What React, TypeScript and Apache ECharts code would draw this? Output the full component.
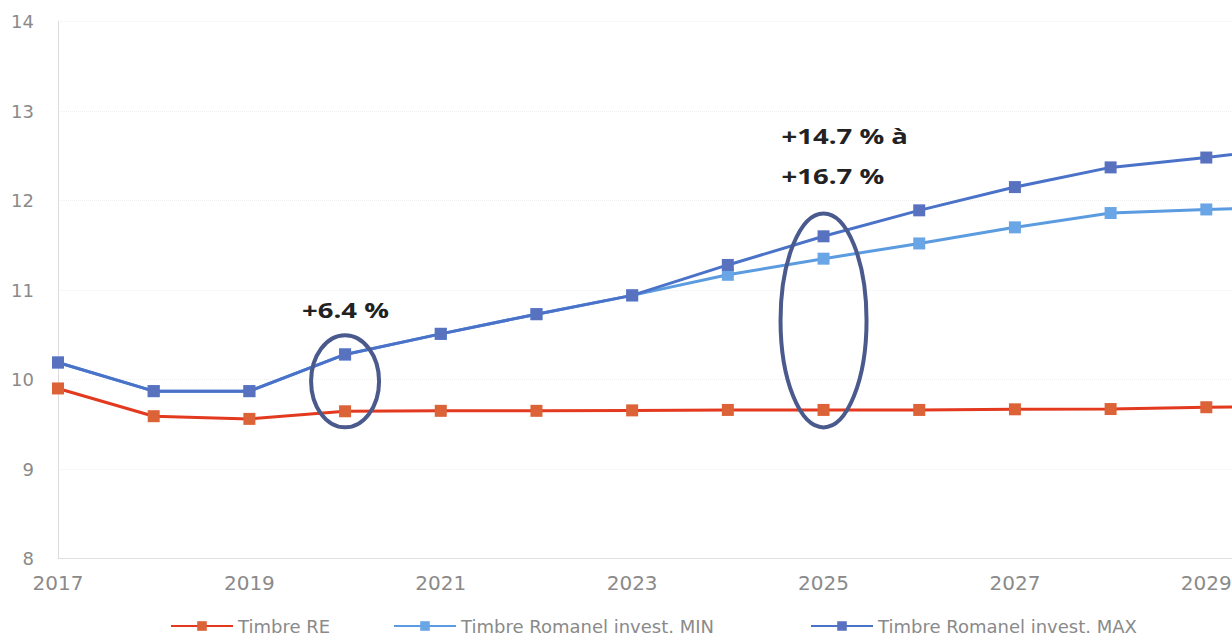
import React, { useEffect, useRef } from "react";
import * as echarts from "echarts";

const years = ["2017","2018","2019","2020","2021","2022","2023","2024","2025","2026","2027","2028","2029","2030"];
const timbreRE = [9.9, 9.59, 9.56, 9.645, 9.65, 9.65, 9.655, 9.66, 9.66, 9.66, 9.667, 9.67, 9.69, 9.7];
const romanelMin = [10.19, 9.87, 9.87, 10.28, 10.51, 10.73, 10.94, 11.17, 11.35, 11.52, 11.7, 11.86, 11.9, 11.93];
const romanelMax = [10.19, 9.87, 9.87, 10.28, 10.51, 10.73, 10.94, 11.28, 11.6, 11.89, 12.15, 12.37, 12.48, 12.61];
const seriesNames = ["Timbre RE", "Timbre Romanel invest. MIN", "Timbre Romanel invest. MAX"];
const annotationYears = ["2020", "2025"];
const annotationCenters = [9.98, 10.66];
const annotationTexts = [["+6.4 %"], ["+14.7 % à", "+16.7 %"]];

// layout of the annotation marks (pixels)
const annLayout = [
  { rx: 34, ry: 46, dx: -43, lastDy: -26 },
  { rx: 43, ry: 107, dx: -42, lastDy: -38 },
];

export default function App() {
  const ref = useRef<HTMLDivElement>(null);
  useEffect(() => {
    const chart = echarts.init(ref.current!, undefined, { renderer: "svg" });
    const gray = "#8a8a8a";
    const mkSeries = (name: string, data: number[], line: string, marker: string, z: number) => ({
      name,
      type: "line",
      data,
      symbol: "rect",
      symbolSize: 12,
      z,
      lineStyle: { color: line, width: 3 },
      itemStyle: { color: marker },
    });
    const legendBase = {
      top: 612,
      itemWidth: 62,
      itemHeight: 12,
      textStyle: { color: gray, fontSize: 18, fontFamily: "DejaVu Sans" },
    };
    chart.setOption({
      animation: false,
      backgroundColor: "#ffffff",
      grid: { left: 58, right: 0, top: 21.5, bottom: 80.5 },
      xAxis: {
        type: "category",
        data: years,
        boundaryGap: false,
        axisLine: { show: true, lineStyle: { color: "#d8d8d8", type: "dotted", width: 1 } },
        axisTick: { show: false },
        axisLabel: { interval: 1, color: gray, fontSize: 20, fontFamily: "DejaVu Sans", margin: 14 },
        splitLine: { show: false },
      },
      yAxis: {
        type: "value",
        min: 8,
        max: 14,
        interval: 1,
        axisLine: { show: true, lineStyle: { color: "#d8d8d8", type: "dotted", width: 1 } },
        axisTick: { show: false },
        axisLabel: { color: gray, fontSize: 18, fontFamily: "DejaVu Sans", margin: 24 },
        splitLine: { show: true, lineStyle: { color: "#efefef", type: "dotted", width: 1 } },
      },
      legend: [
        { ...legendBase, left: 165, data: [seriesNames[0]] },
        { ...legendBase, left: 388, data: [seriesNames[1]] },
        { ...legendBase, left: 805, data: [seriesNames[2]] },
      ],
      series: [
        mkSeries(seriesNames[0], timbreRE, "#e2391f", "#dc6238", 3),
        mkSeries(seriesNames[1], romanelMin, "#5b9be0", "#6aa6e6", 4),
        mkSeries(seriesNames[2], romanelMax, "#4a72c8", "#5872c0", 5),
      ],
    });
    const graphics: any[] = [];
    annotationYears.forEach((yr, k) => {
      const L = annLayout[k];
      const p = chart.convertToPixel({ gridIndex: 0 }, [yr, annotationCenters[k]]) as number[];
      graphics.push({
        type: "ellipse",
        shape: { cx: p[0], cy: p[1], rx: L.rx, ry: L.ry },
        style: { fill: "none", stroke: "#4b5a8c", lineWidth: 4 },
        z: 10,
      });
      const lines = annotationTexts[k];
      const lastY = p[1] - L.ry + L.lastDy;
      lines.forEach((t, i) => {
        graphics.push({
          type: "text",
          x: p[0] + L.dx,
          y: lastY - (lines.length - 1 - i) * 40,
          style: {
            text: t,
            fill: "#222222",
            font: "bold 22px 'Open Sans'",
            textVerticalAlign: "middle",
          },
          scaleX: 1.25,
          z: 11,
        });
      });
    });
    chart.setOption({ graphic: graphics });
    return () => chart.dispose();
  }, []);
  return (
    <div style={{ position: "absolute", left: 0, top: 0, width: 1232, height: 639, overflow: "hidden" }}>
      <div ref={ref} style={{ width: 1302, height: 639 }} />
    </div>
  );
}
